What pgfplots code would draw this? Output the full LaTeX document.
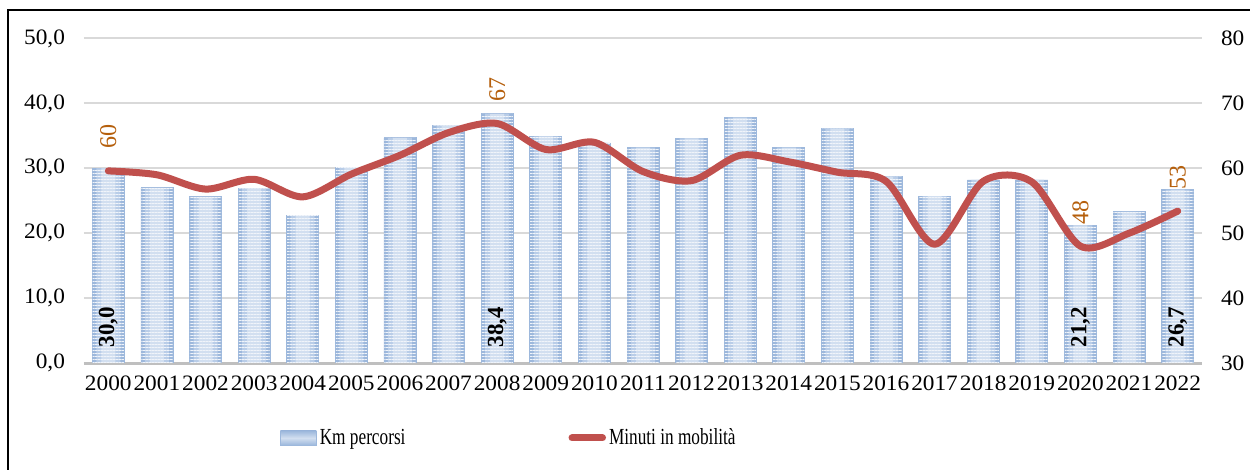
\documentclass[border=0pt]{standalone}
\usepackage{fontspec}
\setmainfont{Liberation Serif}
\newfontfamily\legendfont[FakeStretch=0.75]{Liberation Serif}
\newfontfamily\tickfont[FakeStretch=1.06]{Liberation Serif}
\usepackage{pgfplots}
\usepackage{pgfplotstable}
\pgfplotsset{compat=1.18}
\usetikzlibrary{patterns.meta}
\definecolor{barDark}{HTML}{9DB8DC}
\definecolor{barMid}{HTML}{B9CDE8}
\definecolor{barLight}{HTML}{D2DFF0}
\definecolor{barStripe}{HTML}{F0F4FA}
\definecolor{lineRed}{HTML}{C0504D}
\definecolor{gridGray}{HTML}{D9D9D9}
\definecolor{axisGray}{HTML}{BFBFBF}
\definecolor{labOrange}{RGB}{181,95,12}

\pgfplotstableread{
year km min
2000 30.0 59.6
2001 27.0 59.0
2002 25.6 56.8
2003 26.9 58.3
2004 22.8 55.6
2005 30.2 59.1
2006 34.7 62.0
2007 36.6 65.5
2008 38.4 66.9
2009 34.9 62.9
2010 33.9 64.0
2011 33.2 59.5
2012 34.6 58.1
2013 37.8 62.0
2014 33.2 61.0
2015 36.1 59.4
2016 28.7 58.0
2017 25.7 48.3
2018 28.2 58.0
2019 28.2 57.9
2020 21.2 48.0
2021 23.3 50.0
2022 26.7 53.4
}\datatable

\pgfplotstableread{
year km lab
2000 0 30,0
2008 0 38,4
2020 0 21,2
2022 0 26,7
}\barlabels

\pgfplotstableread{
year min lab
2000 59.6 60
2008 66.9 67
2020 48.0 48
2022 53.4 53
}\linelabels

\begin{document}
\begin{tikzpicture}
\useasboundingbox (0,0) rectangle (625bp,235bp);
\draw[line width=1bp] (4bp,-20bp) -- (4bp,230bp) -- (660bp,230bp);

\begin{axis}[
  at={(42bp,53.5bp)}, anchor=south west,
  scale only axis, width=559bp, height=162.25bp,
  xmin=1999.5, xmax=2022.5, ymin=0, ymax=50,
  xtick={2000,...,2022}, ytick={0,10,...,50},
  axis x line*=bottom, axis y line*=left,
  x axis line style={draw=axisGray, line width=1.5bp, -},
  y axis line style={draw=none},
  major tick length=0pt,
  ymajorgrids, grid style={draw=gridGray, line width=1bp},
  /pgf/number format/assume math mode=true,
  tick label style={font=\tickfont\fontsize{11bp}{13bp}\selectfont, black},
  xticklabel style={/pgf/number format/1000 sep={}, yshift=-3bp},
  yticklabel style={/pgf/number format/fixed, /pgf/number format/fixed zerofill,
    /pgf/number format/precision=1, /pgf/number format/use comma, xshift=-6bp},
  legend columns=2,
  legend style={draw=none, fill=none, at={(0.1753,-0.2311)}, anchor=west,
    inner sep=0pt, outer sep=0pt,
    font=\legendfont\fontsize{11.5bp}{13bp}\selectfont,
    nodes={inner sep=1.5bp},
    /tikz/every even column/.append style={column sep=80bp}},
]
\addplot[ybar, bar width=16bp, draw=barDark, line width=0.4bp, fill=barDark,
  legend image code/.code={
    \shade[top color=barDark, bottom color=barDark, middle color=barLight] (0bp,-3.5bp) rectangle (18bp,3.5bp);}
  ] table[x=year, y=km] {\datatable};
\addlegendentry{Km percorsi}
\addlegendimage{legend image code/.code={\draw[lineRed, line width=3.5bp, line cap=round] (1.75bp,0bp) -- (17bp,0bp);}}
\addlegendentry{Minuti in mobilità}
\addplot[forget plot, ybar, bar width=12bp, draw=none, fill=barMid] table[x=year, y=km] {\datatable};
\addplot[forget plot, ybar, bar width=7bp, draw=none, fill=barLight] table[x=year, y=km] {\datatable};
\addplot[forget plot, ybar, bar width=15.6bp, draw=none,
  pattern={Lines[angle=0,distance=1.5bp,line width=0.5bp]}, pattern color=barStripe] table[x=year, y=km] {\datatable};

\addplot[forget plot, draw=none, mark=none, nodes near coords, point meta=explicit symbolic,
  nodes near coords style={rotate=90, anchor=west, text=black,
    font=\bfseries\fontsize{11.5bp}{13bp}\selectfont, inner xsep=8bp, inner ysep=0pt, outer sep=0pt}]
  table[x=year, y=km, meta=lab] {\barlabels};
\end{axis}

\begin{axis}[
  at={(42bp,53.5bp)}, anchor=south west,
  scale only axis, width=559bp, height=162.25bp,
  xmin=1999.5, xmax=2022.5, ymin=30, ymax=80,
  xtick=\empty, ytick={30,40,...,80},
  axis x line=none, axis y line*=right,
  y axis line style={draw=none},
  major tick length=0pt,
  clip=false,
  /pgf/number format/assume math mode=true,
  tick label style={font=\tickfont\fontsize{11bp}{13bp}\selectfont, black},
  yticklabel style={xshift=6bp},
]
\addplot[lineRed, line width=3.5bp, smooth, line cap=round, line join=round, mark=none]
  table[x=year, y=min] {\datatable};
\addplot[draw=none, mark=none, nodes near coords, point meta=explicit symbolic,
  nodes near coords style={rotate=90, anchor=west, text=labOrange,
    font=\fontsize{12bp}{13bp}\selectfont, inner xsep=11bp, inner ysep=0pt, outer sep=0pt}]
  table[x=year, y=min, meta=lab] {\linelabels};
\end{axis}
\end{tikzpicture}
\end{document}
